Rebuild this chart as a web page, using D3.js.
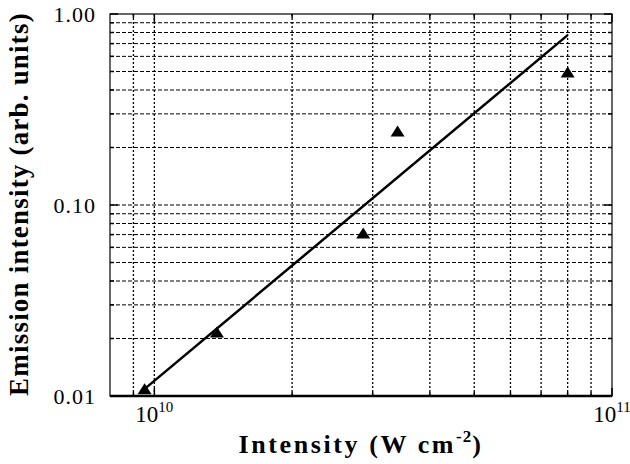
<!DOCTYPE html>
<html>
<head>
<meta charset="utf-8">
<script src="https://cdn.jsdelivr.net/npm/d3@7"></script>
<style>
  body { margin: 0; background: #fff; }
  svg { display: block; }
  text { font-family: "Liberation Serif", "Times New Roman", serif; }
</style>
</head>
<body>
<div id="chart"></div>
<script>
// measured points (W cm^-2, arb. units)
const intensity = [9.52e9, 1.37e10, 2.86e10, 3.40e10, 8.0e10]
const emission = [0.0109, 0.0216, 0.0713, 0.244, 0.497]

// fitted line (slope 2)
const fitX = [9.44e9, 8.0e10]
const fitY = [0.0107, 0.775]

const xGrid = [9e9, 1e10, 2e10, 3e10, 4e10, 5e10, 6e10, 7e10, 8e10, 9e10]
const yGrid = [0.02, 0.03, 0.04, 0.05, 0.06, 0.07, 0.08, 0.09, 0.1,
  0.2, 0.3, 0.4, 0.5, 0.6, 0.7, 0.8, 0.9]
const xMajor = [1e10, 1e11]
const xMinor = [9e9, 2e10, 3e10, 4e10, 5e10, 6e10, 7e10, 8e10, 9e10]
const yMajor = [0.01, 0.1, 1]
const yMajorLabels = ["0.01", "0.10", "1.00"]
const xMajorExp = ["10", "11"]

const MARGIN = { TOP: 14, BOTTOM: 68, LEFT: 110, RIGHT: 18 }
const WIDTH = 630 - MARGIN.LEFT - MARGIN.RIGHT
const HEIGHT = 464 - MARGIN.TOP - MARGIN.BOTTOM

const svg = d3.select("#chart").append("svg")
  .attr("width", 630)
  .attr("height", 464)

const g = svg.append("g")
  .attr("transform", `translate(${MARGIN.LEFT}, ${MARGIN.TOP})`)

const x = d3.scaleLog().domain([8e9, 1e11]).range([0, WIDTH])
const y = d3.scaleLog().domain([0.01, 1]).range([HEIGHT, 0])

// grid lines
g.append("g")
  .selectAll("line")
  .data(xGrid)
  .enter().append("line")
    .attr("x1", d => x(d)).attr("x2", d => x(d))
    .attr("y1", 0).attr("y2", HEIGHT)
    .attr("stroke", "#000")
    .attr("stroke-width", 1.3)
    .attr("stroke-dasharray", "2,2")

g.append("g")
  .selectAll("line")
  .data(yGrid)
  .enter().append("line")
    .attr("x1", 0).attr("x2", WIDTH)
    .attr("y1", d => y(d)).attr("y2", d => y(d))
    .attr("stroke", "#000")
    .attr("stroke-width", 1)
    .attr("stroke-dasharray", "4,2")

// inner ticks
const tickG = g.append("g").attr("stroke", "#000").attr("stroke-width", 1.5)
const yTicks = yMajor.map(v => ({ v, len: 8 }))
  .concat(yGrid.filter(v => v !== 0.1).map(v => ({ v, len: 4 })))
yTicks.forEach(t => {
  tickG.append("line").attr("x1", 0).attr("x2", t.len)
    .attr("y1", y(t.v)).attr("y2", y(t.v))
  tickG.append("line").attr("x1", WIDTH).attr("x2", WIDTH - t.len)
    .attr("y1", y(t.v)).attr("y2", y(t.v))
})
const xTicks = xMajor.map(v => ({ v, len: 8 }))
  .concat(xMinor.map(v => ({ v, len: 4 })))
xTicks.forEach(t => {
  tickG.append("line").attr("x1", x(t.v)).attr("x2", x(t.v))
    .attr("y1", HEIGHT).attr("y2", HEIGHT - t.len)
  tickG.append("line").attr("x1", x(t.v)).attr("x2", x(t.v))
    .attr("y1", 0).attr("y2", t.len)
})

// frame
g.append("rect")
  .attr("width", WIDTH).attr("height", HEIGHT)
  .attr("fill", "none").attr("stroke", "#000").attr("stroke-width", 1.2)
g.append("line")
  .attr("x1", 0).attr("x2", WIDTH)
  .attr("y1", HEIGHT).attr("y2", HEIGHT)
  .attr("stroke", "#000").attr("stroke-width", 2.5)

// fit line
const line = d3.line().x(d => x(d[0])).y(d => y(d[1]))
g.append("path")
  .datum(d3.zip(fitX, fitY))
  .attr("d", line)
  .attr("fill", "none")
  .attr("stroke", "#000")
  .attr("stroke-width", 2.5)

// triangles
g.append("g")
  .selectAll("path")
  .data(d3.zip(intensity, emission))
  .enter().append("path")
    .attr("d", "M-7,5.5L7,5.5L0,-5.5Z")
    .attr("transform", d => `translate(${x(d[0])}, ${y(d[1])})`)
    .attr("fill", "#000")

// y tick labels
g.append("g")
  .selectAll("text")
  .data(yMajor)
  .enter().append("text")
    .attr("x", -14)
    .attr("y", d => y(d))
    .attr("dy", "0.35em")
    .attr("text-anchor", "end")
    .attr("font-size", 22)
    .attr("letter-spacing", 1)
    .text((d, i) => yMajorLabels[i])

// x tick labels with exponent
const xl = g.append("g")
  .selectAll("text")
  .data(xMajor)
  .enter().append("text")
    .attr("x", d => x(d))
    .attr("y", HEIGHT + 26)
    .attr("text-anchor", "middle")
    .attr("font-size", 23)
xl.append("tspan").text("10")
xl.append("tspan")
  .attr("dy", -10)
  .attr("font-size", 15)
  .text((d, i) => xMajorExp[i])

// axis titles
const xt = g.append("text")
  .attr("x", WIDTH / 2)
  .attr("y", HEIGHT + 57)
  .attr("text-anchor", "middle")
  .attr("font-size", 26)
  .attr("font-weight", "bold")
  .attr("letter-spacing", 2.6)
xt.append("tspan").text("Intensity (W cm")
xt.append("tspan").attr("dy", -11).attr("font-size", 17).attr("letter-spacing", 1).text("-2")
xt.append("tspan").attr("dy", 11).text(")")

g.append("text")
  .attr("transform", "rotate(-90)")
  .attr("x", -HEIGHT / 2 + 1)
  .attr("y", -82)
  .attr("text-anchor", "middle")
  .attr("font-size", 27)
  .attr("font-weight", "bold")
  .attr("letter-spacing", 1.2)
  .text("Emission intensity (arb. units)")
</script>
</body>
</html>
